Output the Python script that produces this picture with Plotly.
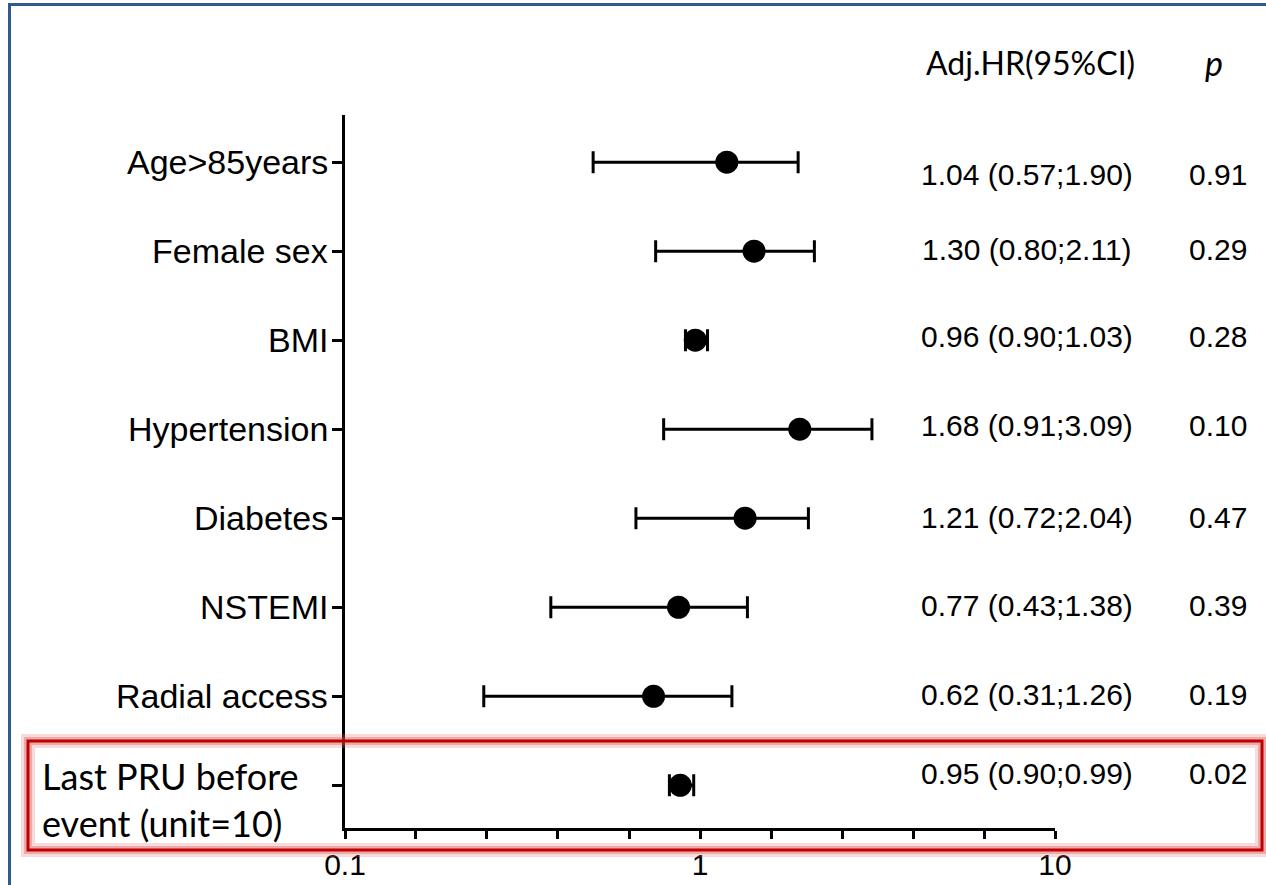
import plotly.graph_objects as go

# ---- data ----
labels = ["Age>85years", "Female sex", "BMI", "Hypertension", "Diabetes",
          "NSTEMI", "Radial access", "Last PRU before<br>event (unit=10)"]
hr_point = [1.19, 1.42, 0.97, 1.91, 1.34, 0.87, 0.74, 0.88]
ci_low   = [0.50, 0.75, 0.91, 0.79, 0.66, 0.38, 0.246, 0.82]
ci_high  = [1.89, 2.10, 1.05, 3.05, 2.02, 1.36, 1.23, 0.96]
hr_text  = ["1.04 (0.57;1.90)", "1.30 (0.80;2.11)", "0.96 (0.90;1.03)",
            "1.68 (0.91;3.09)", "1.21 (0.72;2.04)", "0.77 (0.43;1.38)",
            "0.62 (0.31;1.26)", "0.95 (0.90;0.99)"]
p_text   = ["0.91", "0.29", "0.28", "0.10", "0.47", "0.39", "0.19", "0.02"]
x_tickvals = [0.1, 0.158, 0.251, 0.398, 0.631, 1, 1.585, 2.512, 3.981, 6.31, 10]
x_ticktext = ["0.1", "", "", "", "", "1", "", "", "", "", "10"]

n = len(labels)
ypos = [n - i for i in range(n)]  # top row highest

arial = "Liberation Sans, Arial, sans-serif"
calibri = "Lato, Carlito, Calibri, sans-serif"

fig = go.Figure()

fig.add_trace(go.Scatter(
    x=hr_point, y=ypos, mode="markers",
    marker=dict(color="black", size=23),
    error_x=dict(type="data", symmetric=False,
                 array=[h - p for h, p in zip(ci_high, hr_point)],
                 arrayminus=[p - l for p, l in zip(hr_point, ci_low)],
                 color="black", thickness=3, width=11),
    showlegend=False, hoverinfo="skip"))

# paper-coordinate helpers (plot area: x 345..1055 px, y 115..828 px)
L, R, T, B = 345, 1055, 115, 828
def px(xp): return (xp - L) / (R - L)
def py(yp): return (B - yp) / (B - T)

annotations = []
for i, lab in enumerate(labels[:-1]):
    annotations.append(dict(x=px(330), y=ypos[i], xref="paper", yref="y",
                            text=lab, showarrow=False, xanchor="right", yanchor="middle",
                            font=dict(family=arial, size=34, color="black")))
annotations.append(dict(x=px(40), y=ypos[-1], xref="paper", yref="y",
                        text=labels[-1], showarrow=False, xanchor="left", yanchor="middle",
                        align="left", yshift=-14,
                        font=dict(family=calibri, size=36, color="black")))
shifts = [-12, 2, 4, 4, 1, 2, 2, 12]
for i in range(n):
    annotations.append(dict(x=px(1027), y=ypos[i], xref="paper", yref="y",
                            text=hr_text[i], showarrow=False, yshift=shifts[i],
                            xanchor="center", yanchor="middle",
                            font=dict(family=arial, size=30, color="black")))
    annotations.append(dict(x=px(1218), y=ypos[i], xref="paper", yref="y",
                            text=p_text[i], showarrow=False, yshift=shifts[i],
                            xanchor="center", yanchor="middle",
                            font=dict(family=arial, size=30, color="black")))
annotations.append(dict(x=px(1030), y=py(63), xref="paper", yref="paper",
                        text="Adj.HR(95%CI)", showarrow=False,
                        xanchor="center", yanchor="middle",
                        font=dict(family=calibri, size=32, color="black")))
annotations.append(dict(x=px(1214), y=py(63), xref="paper", yref="paper",
                        text="<i>p</i>", showarrow=False,
                        xanchor="center", yanchor="middle",
                        font=dict(family=calibri, size=34, color="black")))

shapes = [
    dict(type="line", xref="x", yref="paper", x0=0, x1=0, y0=0, y1=1,
         line=dict(color="black", width=2.5, dash="7px,5px")),
    dict(type="rect", xref="paper", yref="paper",
         x0=px(9.5), x1=px(1300), y0=py(960), y1=py(4.5),
         line=dict(color="#2E5A8C", width=3), layer="above"),
    dict(type="rect", xref="paper", yref="paper",
         x0=px(28), x1=px(1262), y0=py(850), y1=py(741),
         line=dict(color="rgba(225,110,110,0.25)", width=14), layer="above"),
    dict(type="rect", xref="paper", yref="paper",
         x0=px(28), x1=px(1262), y0=py(850), y1=py(741),
         line=dict(color="rgba(215,80,80,0.35)", width=8), layer="above"),
    dict(type="rect", xref="paper", yref="paper",
         x0=px(28), x1=px(1262), y0=py(850), y1=py(741),
         line=dict(color="#C00000", width=3), layer="above"),
]

fig.update_layout(
    width=1266, height=885,
    margin=dict(l=L, r=1266 - R, t=T, b=885 - B, autoexpand=False),
    paper_bgcolor="white", plot_bgcolor="white",
    annotations=annotations, shapes=shapes,
    xaxis=dict(type="log", range=[-1, 1], tickmode="array",
               tickvals=x_tickvals, ticktext=x_ticktext,
               showgrid=False, zeroline=False, automargin=False,
               showline=True, linecolor="black", linewidth=2.5,
               ticks="outside", ticklen=8, tickwidth=2.5, tickcolor="black",
               tickfont=dict(family=arial, size=30, color="black")),
    yaxis=dict(range=[0.52, 8.53], tickmode="array", tickvals=ypos,
               ticktext=[""] * n, showgrid=False, zeroline=False, automargin=False,
               showline=True, linecolor="black", linewidth=3,
               ticks="outside", ticklen=10, tickwidth=3, tickcolor="black"),
)

fig.write_html("out.html",
               config={"displayModeBar": False},
               post_script="document.body.style.margin='0';"
                           "document.body.style.overflow='hidden';")
